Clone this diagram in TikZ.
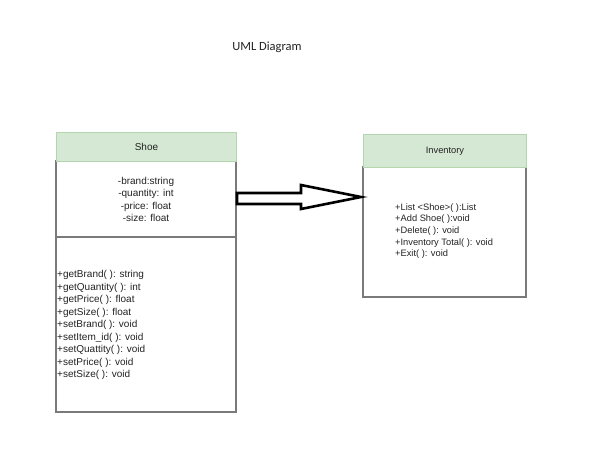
\documentclass[tikz,border=0pt]{standalone}
\usepackage{fontspec}
\setmainfont{Liberation Sans}
\newfontfamily\titlefont{Carlito}
\definecolor{hdrfill}{HTML}{D5E8D4}
\definecolor{hdrline}{HTML}{B3D6AE}
\definecolor{boxline}{HTML}{7A7A7A}
\definecolor{txt}{HTML}{222222}
\begin{document}
\begin{tikzpicture}[x=1pt,y=-1pt,
  hdr/.style={draw=hdrline,fill=hdrfill,line width=1pt,inner sep=0pt},
  body/.style={draw=boxline,line width=1.5pt,inner sep=0pt},
  shoetxt/.style={font=\fontsize{10}{12.5}\selectfont,text=txt,inner sep=0pt},
  invtxt/.style={font=\fontsize{9.3}{11.6}\selectfont,text=txt,inner sep=0pt},
  blockarrow/.style={draw=black,fill=white,line width=2.6pt,line join=miter}]
\useasboundingbox (0,0) rectangle (605,448);
\node[font=\titlefont\fontsize{12.5}{14}\selectfont,text=txt] (title) at (267,47) {UML Diagram};
% Shoe class
\draw[body] (56,161) rectangle (236,412);
\draw[body] (56,237) -- (236,237);
\node[hdr,minimum width=180pt,minimum height=29pt,anchor=north west] (shoehdr) at (56,132) {};
\node[shoetxt] (shoename) at (shoehdr.center) {Shoe};
\node[shoetxt,align=center] (shoeattr) at (146,199.5) {-brand:string\\-quantity: int\\-price: float\\-size: float};
\node[shoetxt,align=left,anchor=west] (shoemeth) at (57,325) {+getBrand( ): string\\+getQuantity( ): int\\+getPrice( ): float\\+getSize( ): float\\+setBrand( ): void\\+setItem\_id( ): void\\+setQuattity( ): void\\+setPrice( ): void\\+setSize( ): void};
% Inventory class
\draw[body] (363,167) rectangle (526,297);
\node[hdr,minimum width=163pt,minimum height=33pt,anchor=north west] (invhdr) at (363,134) {};
\node[invtxt] (invname) at (invhdr.center) {Inventory};
\node[invtxt,align=left,anchor=west] (invmeth) at (395,231) {+List <Shoe>( ):List\\+Add Shoe( ):void\\+Delete( ): void\\+Inventory Total( ): void\\+Exit( ): void};
% block arrow
\draw[blockarrow] (237,193) -- (301,193) -- (301,185) -- (361,197) -- (301,209) -- (301,204) -- (237,204) -- cycle;
\end{tikzpicture}
\end{document}
